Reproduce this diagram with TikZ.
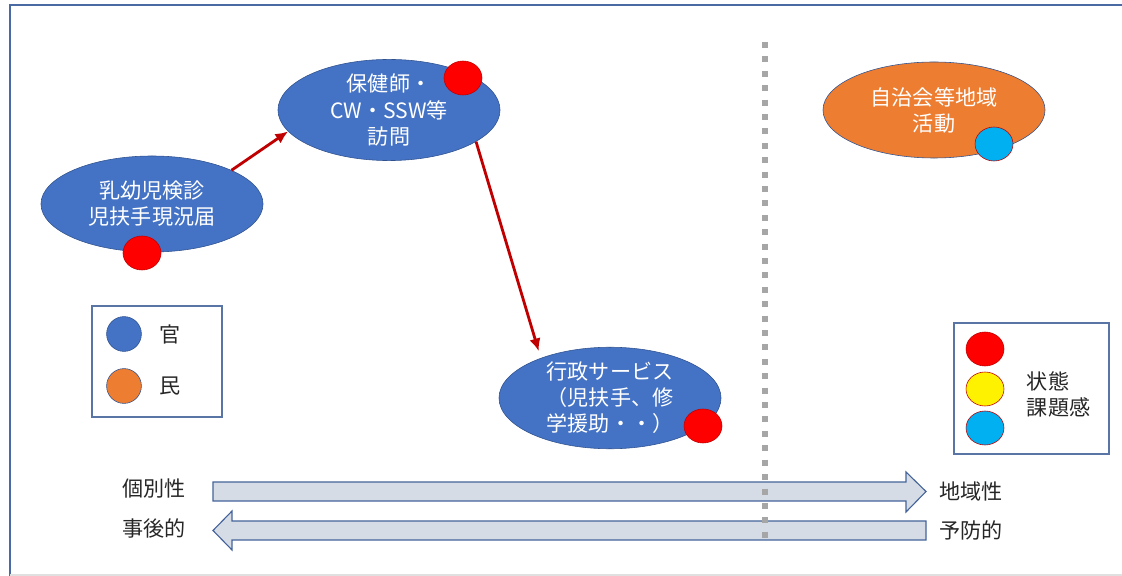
\documentclass[tikz,border=0pt]{standalone}
\usepackage{fontspec}
\setmainfont{Noto Sans CJK JP}
\usepackage{xcolor}
\usepackage{tikz}
\usetikzlibrary{arrows.meta, shapes.geometric}
\definecolor{kanblau}{HTML}{4472C4}
\definecolor{randblau}{HTML}{2F528F}
\definecolor{minorange}{HTML}{ED7D31}
\definecolor{punktrot}{HTML}{FF0000}
\definecolor{dunkelrot}{HTML}{C00000}
\definecolor{hellblau}{HTML}{00B0F0}
\definecolor{bandgrau}{HTML}{D6DCE5}
\definecolor{rahmen}{HTML}{4A6AA5}
\definecolor{trenngrau}{HTML}{A6A6A6}

\begin{document}
\begin{tikzpicture}[
                x=0.025cm, y=-0.025cm,
                >={Latex[length=9pt,width=8pt]},
                font=\fontsize{15}{18.5}\selectfont,
                bubble/.style={ellipse, draw=randblau, fill=kanblau, minimum width=5.55cm, minimum height=2.4cm, inner sep=0pt, text=white, align=center},
                dot/.style={ellipse, draw=dunkelrot, fill=punktrot, minimum width=0.95cm, minimum height=0.85cm, inner sep=0pt},
                legdot/.style={circle, draw=randblau, minimum size=0.87cm, inner sep=0pt},
                legbox/.style={draw=randblau!80, line width=0.8pt},
                line/.style={draw, ->, dunkelrot, line width=2pt},
                band/.style={draw=randblau!90, fill=bandgrau, line width=0.8pt},
                beschrift/.style={text=black!85}
            ]
            \useasboundingbox (0,0) rectangle (1122,576);

                % --- RAHMEN ---
                \draw[rahmen, line width=1.4pt] (10,576) -- (10,5) -- (1122,5);
                \draw[black!12, line width=0.8pt] (10,575) -- (1122,575);

                % --- BLASEN ---
                \node[bubble] (kenshin) at (152,204) {乳幼児検診\\児扶手現況届};
                \node[bubble] (houmon) at (389,110) {保健師・\\CW・SSW等\\訪問};
                \node[bubble] (gyosei) at (610,398) {行政サービス\\（児扶手、修\\学援助・・）};
                \node[bubble, fill=minorange] (jichikai) at (934,110) {自治会等地域\\活動};

                % --- PUNKTE ---
                \node[dot] (punkt1) at (142,253) {};
                \node[dot] (punkt2) at (463,78) {};
                \node[dot] (punkt3) at (703,426) {};
                \node[dot, fill=hellblau] (punkt4) at (994,144) {};

                % --- VERBINDUNGEN ---
                \draw[line] (kenshin.23) -- (houmon.192);
                \draw[line, shorten >=0.18cm] (houmon.340) -- (gyosei.150);

                % --- LEGENDE (LINKS) ---
                \draw[legbox] (92,306) rectangle (222,417);
                \node[legdot, fill=kanblau] (kan) at (124,334) {};
                \node[legdot, fill=minorange] (min) at (124,386) {};
                \node[beschrift] (kantext) at (170,334) {官};
                \node[beschrift] (mintext) at (170,386) {民};

                % --- LEGENDE (RECHTS) ---
                \draw[legbox] (954,323) rectangle (1109,454);
                \node[dot] (zustand1) at (985,349) {};
                \node[dot, fill=yellow] (zustand2) at (985,389) {};
                \node[dot, fill=hellblau] (zustand3) at (985,428) {};
                \node[beschrift, anchor=west, align=left] (zustand) at (1022,394) {状態\\課題感};

                % --- ACHSEN ---
                \draw[band] (213,482) -- (906,482) -- (906,472) -- (926,491.5) -- (906,512) -- (906,501) -- (213,501) -- cycle;
                \draw[band] (926,521) -- (232,521) -- (232,511) -- (213,530.5) -- (232,550) -- (232,540) -- (926,540) -- cycle;
                \node[beschrift] (einzel) at (154,489) {個別性};
                \node[beschrift] (nachher) at (154,528) {事後的};
                \node[beschrift] (gebiet) at (971,491) {地域性};
                \node[beschrift] (vorbeug) at (971,530) {予防的};

                % --- TRENNLINIE ---
                \draw[trenngrau, line width=0.15cm, dash pattern=on 0.15cm off 0.21cm] (765,42) -- (765,540);

            \end{tikzpicture}
\end{document}
